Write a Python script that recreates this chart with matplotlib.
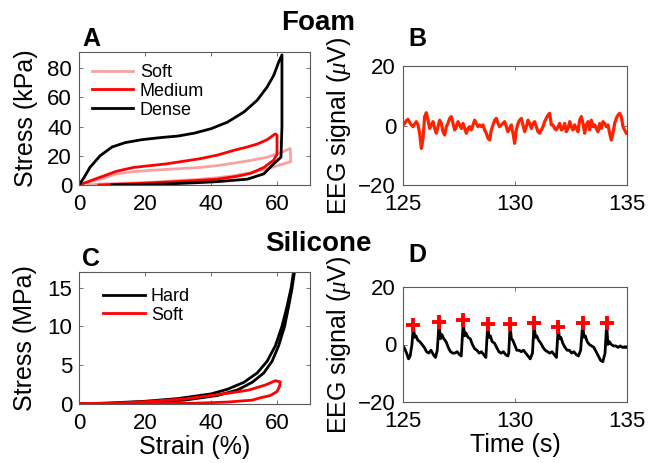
import matplotlib
matplotlib.use("Agg")
import matplotlib.pyplot as plt

plt.rcParams["font.family"] = ["Liberation Sans", "DejaVu Sans"]
plt.rcParams["mathtext.fontset"] = "custom"
plt.rcParams["mathtext.it"] = "Liberation Serif:italic"

# ---- Panel A: foam stress-strain loops (strain %, stress kPa)
soft_foam_x = [0, 3, 6.4, 11.4, 16, 21.5, 29, 36.7, 42, 47, 52, 57, 61.5, 64, 64.2,
               62, 57, 52, 47, 42, 37, 30, 21.5, 14, 6.4, 2.8]
soft_foam_y = [0, 2, 4, 7.6, 9, 10, 11, 12, 13.3, 15, 16.8, 19, 22.5, 25, 16,
               14.5, 11, 8.3, 6.4, 5, 4, 3, 1.8, 1.2, 0.7, 0]
medium_foam_x = [0, 3, 6.4, 11.4, 16.5, 26.6, 36.7, 42, 46.9, 51, 54, 57, 59.5, 60, 60,
                 59, 56, 52, 48, 42, 35, 25, 15, 6]
medium_foam_y = [0, 2.5, 5.3, 9.4, 12, 14.5, 18, 20.5, 23.7, 26, 28, 31, 35, 34, 21,
                 17, 12, 8, 6, 4, 3, 1.8, 0.8, 0]
dense_foam_x = [0, 1.5, 3.3, 6.4, 10, 14, 19, 25, 30, 35, 40, 45, 50, 54, 57, 59, 60.5, 61.5,
                61.5, 61.2, 59, 56, 51, 42, 35, 26.6, 18, 10]
dense_foam_y = [0, 5, 12, 20, 26, 29, 31, 32.5, 33.5, 35.5, 38.5, 43, 50, 58, 67, 75, 84, 89,
                40, 19, 14.5, 7.6, 4, 2.3, 1.5, 0.7, 0.3, 0]

# ---- Panel C: silicone stress-strain loops (strain %, stress MPa)
hard_sil_x = [0, 10, 20, 30, 40, 45, 50, 54, 57, 59.5, 61.5, 63, 64.3, 65,
              65.3, 64.6, 63.5, 62.3, 60.5, 58.5, 56, 52.5, 48, 42, 32, 20, 10, 0]
hard_sil_y = [0, 0.15, 0.35, 0.7, 1.3, 1.9, 2.8, 4.0, 5.5, 7.5, 10, 12.5, 15, 17,
              17, 15, 12.5, 10, 7.5, 5.5, 4, 2.8, 1.8, 1.1, 0.5, 0.2, 0.05, 0]
soft_sil_x = [0, 10, 20, 32, 41, 47, 51.5, 56.5, 59.5, 61, 60.8, 60, 58, 55, 52.5,
              45, 35, 20, 0]
soft_sil_y = [0, 0.1, 0.3, 0.65, 1.15, 1.5, 1.8, 2.45, 3.0, 2.85, 2.3, 1.6, 1.1, 0.8, 0.5,
              0.25, 0.1, 0.03, 0]

# ---- Panel B: EEG trace with foam electrode (sampled every 0.0744 s from 125 s)
eeg_b_start = 125.0
eeg_b_step = 0.0744
eeg_b_value = [0.2, 0.7, 1.6, 2.1, 1.0, 0.2, -0.4, 0.5, 1.3, 0.2,
               -2.6, -7.7, -4.5, 3.0, 4.3, 1.8, -1.0, 0.2, 1.3, -1.0,
               -2.6, -0.4, 1.8, 0.7, -2.1, -3.2, -0.4, 0.7, 2.4, 3.0,
               0.7, -1.5, -0.4, 1.3, 0.2, -1.0, 0.7, -1.0, -2.6, -1.0,
               -0.4, -1.5, 0.2, 1.8, 0.7,
               -0.4, 0.2, -0.4, 0.2, -1.5, -2.6, -4.3, -4.9, -1.5, 0.2,
               1.8, 2.4, 0.7, -0.4, 0.2, 0.7, 1.3, -0.4, -2.1, -1.0,
               0.2, -2.6, -6.0, -1.5, 0.7, 1.8, 2.4, 0.2, -2.1, -0.4,
               1.8, 0.7, -1.0, 0.7, 1.3, -0.4, -2.1, -2.6, -1.5, -0.4,
               1.3, 2.4, 3.5, 4.1, 0.2,
               0.2, -1.0, -1.5, -0.4, 0.7, -1.5, -1.0, 0.7, -2.1, -1.0,
               1.3, -0.4, -1.5, 0.2, -1.0, -2.1, 1.8, 3.0, 0.7, -2.6,
               0.2, 1.3, -1.5, 1.8, -0.4, 0.2, -1.0, -2.1, 0.7, -1.0,
               1.3, 0.7, -0.4, 0.2, -2.6, -4.9, -2.6, 0.7, 2.4, 3.5,
               4.1, 3.0, -0.4, -1.5, -2.6]

# ---- Panel D: EEG trace with silicone electrode
eeg_d_time = [125.00, 125.08, 125.16, 125.25, 125.32, 125.40, 125.46,
              125.52, 125.58, 125.66, 125.75, 125.85, 125.95, 126.05, 126.15, 126.25, 126.35, 126.45, 126.53, 126.61,
              126.67, 126.73, 126.82, 126.92, 127.02, 127.12, 127.22, 127.32, 127.42, 127.52, 127.60, 127.69,
              127.75, 127.81, 127.90, 128.00, 128.10, 128.20, 128.30, 128.40, 128.50, 128.60, 128.70, 128.78,
              128.84, 128.90, 128.98, 129.08, 129.18, 129.28, 129.38, 129.48, 129.58, 129.68, 129.72, 129.78,
              129.84, 129.90, 129.98, 130.08, 130.18, 130.28, 130.38, 130.48, 130.58, 130.68, 130.78, 130.85,
              130.91, 130.97, 131.05, 131.15, 131.25, 131.35, 131.45, 131.55, 131.65, 131.75, 131.85, 131.93,
              131.99, 132.05, 132.13, 132.23, 132.33, 132.43, 132.53, 132.63, 132.73, 132.83, 132.93, 133.02,
              133.08, 133.14, 133.22, 133.32, 133.42, 133.52, 133.62, 133.72, 133.82, 133.92, 134.02, 134.09,
              134.15, 134.21, 134.30, 134.40, 134.50, 134.60, 134.70, 134.80, 134.90, 135.00]
eeg_d_value = [-0.5, -1.5, -3.0, -5.0, -4.0, 0.0, 6.5,
               2.5, 3.0, 1.5, 1.0, 0.0, -1.0, -2.5, -3.0, -2.0, -3.5, -4.5, -2.0, 7.5,
               2.0, 3.5, 2.0, 1.0, -1.0, -2.5, -3.0, -3.0, -2.5, -3.5, -4.0, 8.0,
               3.0, 4.0, 2.5, 2.0, 0.0, -1.5, -2.0, -3.0, -2.5, -3.5, -4.5, 6.5,
               2.5, 3.0, 1.0, 0.5, -1.0, -2.5, -3.0, -2.5, -3.5, -4.0, -3.0, 6.5,
               2.0, 1.5, 0.0, -2.0, -2.0, -2.5, -2.0, -3.0, -4.0, -5.0, -3.0, 7.0,
               2.5, 3.0, 1.5, 0.5, -1.0, -2.0, -2.5, -3.0, -2.5, -3.5, -4.5, 6.0,
               2.0, 2.5, 0.5, -1.0, -2.0, -2.0, -3.0, -2.5, -3.5, -4.0, -2.0, 7.0,
               2.5, 3.0, 1.0, 0.0, -0.5, -1.0, -2.5, -4.0, -5.5, -6.0, -3.0, 7.0,
               0.0, 1.0, 0.0, -0.5, -0.5, -1.0, -0.5, -1.0, -1.0, -1.0]
peak_time = [125.46, 126.61, 127.69, 128.78, 129.78, 130.85, 131.93, 133.02, 134.09]
peak_value = [6.8, 8.0, 8.5, 7.0, 7.0, 7.5, 6.2, 7.5, 7.5]

W, H = 658, 463
fig = plt.figure(figsize=(W / 100, H / 100), dpi=100)


def box(px_left, px_top, px_right, px_bottom):
    return [px_left / W, 1 - px_bottom / H, (px_right - px_left) / W, (px_bottom - px_top) / H]


def style(ax):
    for s in ax.spines.values():
        s.set_color("0.35")
        s.set_linewidth(0.8)
    ax.tick_params(direction="in", length=3, width=0.6, color="0.35",
                   top=True, right=True, labelsize=16)
    ax.tick_params(axis="x", pad=6.5)
    ax.tick_params(axis="y", pad=5)


ax_a = fig.add_axes(box(79, 52, 310, 185))
ax_b = fig.add_axes(box(403, 66, 627, 185))
ax_c = fig.add_axes(box(79, 272, 310, 404))
ax_d = fig.add_axes(box(403, 287, 627, 402))

leg_kw = dict(loc="upper left", frameon=False, fontsize=13, handlelength=2.3,
              handletextpad=0.35, labelspacing=0.1, borderpad=0, borderaxespad=0)

# A
ax_a.plot(soft_foam_x, soft_foam_y, color="#f7a3a3", lw=2, label="Soft")
ax_a.plot(medium_foam_x, medium_foam_y, color="#ff0000", lw=2, label="Medium")
ax_a.plot(dense_foam_x, dense_foam_y, color="black", lw=2, label="Dense")
ax_a.set_xlim(0, 70)
ax_a.set_ylim(0, 91)
ax_a.set_xticks([0, 20, 40, 60])
ax_a.set_yticks([0, 20, 40, 60, 80])
ax_a.set_ylabel("Stress (kPa)", fontsize=18, labelpad=7)
ax_a.legend(bbox_to_anchor=(0.056, 0.91), **leg_kw)

# B
b_time = [eeg_b_start + i * eeg_b_step for i in range(len(eeg_b_value))]
ax_b.plot(b_time, eeg_b_value, color="#ff2200", lw=2.3)
ax_b.set_xlim(125, 135)
ax_b.set_ylim(-20, 20)
ax_b.set_xticks([125, 130, 135])
ax_b.set_yticks([-20, 0, 20])
ax_b.set_ylabel(r"EEG signal ($\mu$V)", fontsize=18, labelpad=4)

# C
ax_c.plot(hard_sil_x, hard_sil_y, color="black", lw=2, label="Hard")
ax_c.plot(soft_sil_x, soft_sil_y, color="#ff0000", lw=2, label="Soft")
ax_c.set_xlim(0, 70)
ax_c.set_ylim(0, 17)
ax_c.set_xticks([0, 20, 40, 60])
ax_c.set_yticks([0, 5, 10, 15])
ax_c.set_ylabel("Stress (MPa)", fontsize=18, labelpad=7)
ax_c.set_xlabel("Strain (%)", fontsize=18, labelpad=1)
ax_c.legend(bbox_to_anchor=(0.104, 0.88), **leg_kw)

# D
ax_d.plot(eeg_d_time, eeg_d_value, color="black", lw=2)
ax_d.plot(peak_time, peak_value, "+", color="#ff0000", ms=10.5, mew=2.8)
ax_d.set_xlim(125, 135)
ax_d.set_ylim(-20, 20)
ax_d.set_xticks([125, 130, 135])
ax_d.set_yticks([-20, 0, 20])
ax_d.set_ylabel(r"EEG signal ($\mu$V)", fontsize=18, labelpad=4)
ax_d.set_xlabel("Time (s)", fontsize=18, labelpad=1)

for ax in (ax_a, ax_b, ax_c, ax_d):
    style(ax)

fig.text(318 / W, 1 - 23 / H, "Foam", fontsize=20, fontweight="bold", ha="center", va="center")
fig.text(318 / W, 1 - 244 / H, "Silicone", fontsize=20, fontweight="bold", ha="center", va="center")
for letter, (lx, ly) in zip("ABCD", [(91, 39), (417, 39), (91, 259), (417, 255)]):
    fig.text(lx / W, 1 - ly / H, letter, fontsize=18, fontweight="bold", ha="center", va="center")

fig.savefig("out.png", dpi=100)
